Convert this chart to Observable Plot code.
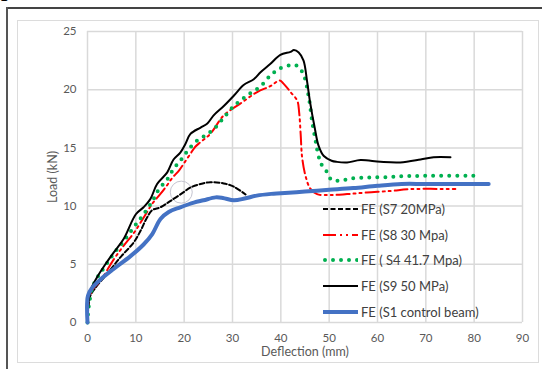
<!DOCTYPE html>
<html><head><meta charset="utf-8">
<script src="https://cdn.jsdelivr.net/npm/d3@7"></script>
<script src="https://cdn.jsdelivr.net/npm/@observablehq/plot@0.6"></script>
<style>
body{margin:0;background:#fff;}
#wrap{position:relative;width:542px;height:369px;overflow:hidden;font-family:Lato,"Open Sans",sans-serif;}
#wrap svg.plot{position:absolute;left:0;top:0;}
.abs{position:absolute;}
#legend{position:absolute;left:323px;top:196.5px;}
#legend .row{height:25.6px;display:flex;align-items:center;}
#legend span{margin-left:3px;font-size:13px;color:#404040;white-space:nowrap;}
</style></head><body>
<div id="wrap">
  <div class="abs" style="left:0;top:-13px;font:bold 16px 'Liberation Serif',serif;color:#000;">1</div>
  <div class="abs" style="left:6px;top:7px;width:536px;height:1.5px;background:#444;"></div>
  <div class="abs" style="left:6px;top:7px;width:1.5px;height:362px;background:#555;"></div>
  <div class="abs" style="left:17px;top:20px;width:520px;height:341px;border:1.5px solid #dcdcdc;"></div>
  <div id="chart"></div>
  <div class="abs" style="left:0;top:345px;width:610px;text-align:center;font-size:12.5px;line-height:14px;color:#595959;">Deflection (mm)</div>
  <div class="abs" style="left:52px;top:177px;transform:translate(-50%,-50%) rotate(-90deg);font-size:12.5px;color:#595959;white-space:nowrap;">Load (kN)</div>
  <div id="legend"></div>
</div>
<script>
// Series (deflection mm, load kN)
const s7 = [[0,0],[0.5,2.2],[1.5,2.9],[4.1,4.2],[6.8,5.6],[9.6,6.9],[11,7.9],[12.3,9.0],[13.4,9.65],[15.1,9.9],[17.2,10.45],[19.9,11.2],[21.3,11.6],[23.4,11.9],[25.4,12.05],[28.2,11.95],[30.3,11.66],[32.7,11.0]];
const s8 = [[0,0],[0.3,2.0],[1,2.8],[2.7,3.6],[5.4,5.4],[7.5,6.6],[9.6,7.7],[11.6,9.0],[13.4,10.2],[15,11.0],[16.3,11.7],[17.5,12.4],[19,13.1],[20,13.7],[21.3,14.5],[22.3,15.1],[23.4,15.5],[25.4,16.2],[28.2,17.8],[31.6,18.8],[35.1,19.8],[37.8,20.3],[39.8,20.8],[40.6,20.5],[42,19.8],[43.4,19.05],[43.8,18.0],[44.1,16.2],[44.4,14.2],[45.1,12.6],[46.1,11.5],[47.5,11.03],[50.3,10.95],[53.7,11.03],[57.8,11.17],[62.7,11.3],[66.8,11.46],[76.1,11.46]];
const s4 = [[0,0],[0.3,1.5],[1.3,3.3],[3.4,4.7],[5.4,5.9],[7.5,7.0],[9.6,8.2],[11.6,9.3],[13.4,10.4],[14.7,11.4],[16.5,12.3],[17.8,13.2],[19.2,13.9],[20.6,14.7],[22.3,15.5],[24.1,16.0],[26.1,16.6],[28.2,17.6],[30.3,18.6],[33,19.5],[35.8,20.3],[37.8,21.2],[39.9,21.85],[42,22.1],[43.4,22.05],[44.7,21.3],[45.8,19.3],[46.5,17.2],[47.2,15.6],[47.8,14.3],[48.5,13.5],[49.6,12.9],[50.4,12.3],[52,12.17],[54.7,12.37],[58.5,12.46],[62.7,12.5],[66.1,12.58],[70,12.6],[80.2,12.6]];
const s9 = [[0,0],[0.6,2.7],[2,3.9],[3.7,5.0],[5.4,6.0],[7.5,7.2],[10,9.3],[11.6,9.9],[13,10.6],[14.4,11.9],[16.5,12.9],[17.8,14.0],[19.2,14.6],[20.2,15.3],[21.3,16.2],[23.4,16.75],[24.8,17.1],[26.1,17.8],[28.2,18.6],[30.3,19.5],[32.3,20.4],[34.4,20.9],[35.8,21.5],[37.8,22.2],[39.9,23.0],[42,23.25],[42.7,23.4],[43.7,23.2],[44.7,22.5],[45.4,20.8],[46.1,18.8],[47,16.75],[47.8,15.2],[48.9,14.3],[50.5,13.9],[51.6,13.8],[53.7,13.75],[56.5,13.95],[60.6,13.8],[64.7,13.75],[68.9,14.0],[71.6,14.2],[75.1,14.2]];
const s1 = [[0,0],[0.1,2.3],[1,3.0],[2.7,3.7],[5.4,4.6],[8.9,5.7],[11.6,6.7],[13.4,7.6],[15.1,8.9],[16.8,9.5],[19.2,9.9],[22,10.3],[24,10.5],[26.5,10.75],[28,10.7],[30.3,10.5],[32.5,10.65],[35,10.9],[38,11.05],[40,11.1],[45,11.25],[50,11.4],[55,11.55],[60,11.75],[65,11.9],[70,11.9],[83,11.9]];
const seriesNames = ["FE (S7 20MPa)","FE (S8 30 Mpa)","FE ( S4 41.7 Mpa)","FE (S9 50 MPa)","FE (S1 control beam)"];
const xTicks = [0,10,20,30,40,50,60,70,80,90];
const yTicks = [0,5,10,15,20,25];
const smudge = [[19.4,11.2]];

const styles = [
  {stroke:"#000", strokeWidth:2, strokeDasharray:"5,2.5"},
  {stroke:"#ff0000", strokeWidth:2, strokeDasharray:"13,4,2,4,2,4"},
  {stroke:"#00b050", strokeWidth:4, strokeDasharray:"0,8", strokeLinecap:"round"},
  {stroke:"#000", strokeWidth:2},
  {stroke:"#4472c4", strokeWidth:4}
];
const series = [s7,s8,s4,s9,s1];
const X = d=>d[0], Y = d=>d[1];

const chart = Plot.plot({
  width:542, height:369,
  marginLeft:87, marginRight:20, marginTop:31, marginBottom:47,
  style:{fontFamily:"Lato, 'Open Sans', sans-serif", fontSize:"11.5px", color:"#595959", background:"transparent"},
  x:{domain:[0,90], ticks:xTicks, label:null},
  y:{domain:[0,25], ticks:yTicks, label:null},
  marks:[
    Plot.gridX(xTicks,{stroke:"#d9d9d9", strokeOpacity:1, strokeWidth:1.5}),
    Plot.gridY(yTicks,{stroke:"#d9d9d9", strokeOpacity:1, strokeWidth:1.5}),
    Plot.axisX(xTicks,{tickSize:0, tickPadding:11, fill:"#595959"}),
    Plot.axisY(yTicks,{tickSize:0, tickPadding:11, fill:"#595959"}),
    Plot.dot(smudge,{x:X, y:Y, r:11, stroke:"#c4c4d0", strokeWidth:1, fill:"none"}),
    ...series.map((s,i)=>Plot.line(s,{x:X, y:Y, curve:"catmull-rom", ...styles[i]}))
  ]
});
chart.classList.add("plot");
document.getElementById("chart").appendChild(chart);

const leg = document.getElementById("legend");
seriesNames.forEach((name,i)=>{
  const st = styles[i];
  const row = document.createElement("div"); row.className="row";
  row.innerHTML = `<svg width="35" height="10"><line x1="${st.strokeLinecap?2:0}" y1="5" x2="35" y2="5" stroke="${st.stroke}" stroke-width="${st.strokeWidth}" ${st.strokeDasharray?`stroke-dasharray="${st.strokeDasharray}"`:""} ${st.strokeLinecap?`stroke-linecap="${st.strokeLinecap}"`:""}/></svg><span>${name}</span>`;
  leg.appendChild(row);
});
</script>
</body></html>
